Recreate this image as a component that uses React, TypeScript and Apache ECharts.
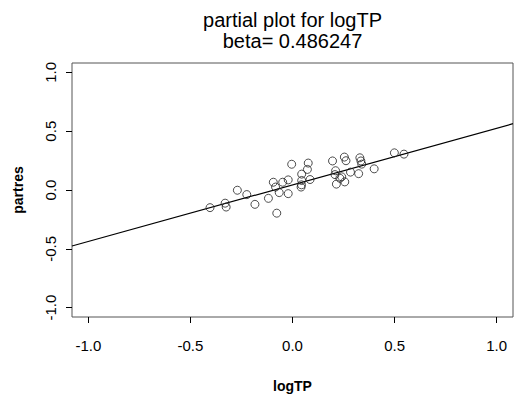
import React, { useEffect, useRef } from "react";
import * as echarts from "echarts";

// Data
const logTP: number[] = [
  -0.404, -0.33, -0.325, -0.27, -0.224, -0.184, -0.118, -0.077, -0.094, -0.083,
  -0.048, -0.021, -0.065, -0.021, -0.004, 0.077, 0.073, 0.045, 0.045, 0.086,
  0.044, 0.196, 0.254, 0.262, 0.33, 0.335, 0.339, 0.4, 0.211, 0.208,
  0.241, 0.284, 0.324, 0.215, 0.256, 0.499, 0.546, 0.042, 0.232,
];
const partres: number[] = [
  -0.15, -0.112, -0.145, -0.002, -0.039, -0.122, -0.071, -0.197, 0.066, 0.025,
  0.066, 0.086, -0.022, -0.031, 0.219, 0.229, 0.175, 0.135, 0.081, 0.089,
  0.044, 0.247, 0.28, 0.249, 0.274, 0.247, 0.22, 0.18, 0.164, 0.131,
  0.112, 0.152, 0.139, 0.05, 0.069, 0.316, 0.305, 0.025, 0.1,
];
const fitLineX: number[] = [-1.08, 1.08];
const fitLineY: number[] = [-0.476, 0.564];
const tickValues: number[] = [-1, -0.5, 0, 0.5, 1];
const titleLines: string[] = ["partial plot for logTP", "beta= 0.486247"];
const xName = "logTP";
const yName = "partres";

const FONT = "'Liberation Sans', Arial, Helvetica, sans-serif";

export default function App() {
  const ref = useRef<HTMLDivElement>(null);
  useEffect(() => {
    if (!ref.current) return;
    const chart = echarts.init(ref.current, null, { renderer: "svg" });
    const fmt = (v: number) => v.toFixed(1);
    chart.setOption({
      animation: false,
      backgroundColor: "#ffffff",
      graphic: [
        {
          type: "text",
          x: 292.5,
          y: 20,
          style: {
            text: titleLines[0],
            font: `20px ${FONT}`,
            fill: "#000",
            textAlign: "center",
            textVerticalAlign: "middle",
          },
        },
        {
          type: "text",
          x: 292.5,
          y: 41,
          style: {
            text: titleLines[1],
            font: `20px ${FONT}`,
            fill: "#000",
            textAlign: "center",
            textVerticalAlign: "middle",
          },
        },
      ],
      grid: {
        left: 72,
        right: 1,
        top: 63,
        bottom: 75,
        show: true,
        borderColor: "#555",
        borderWidth: 1,
        backgroundColor: "transparent",
      },
      xAxis: {
        type: "value",
        min: -1.08,
        max: 1.08,
        name: xName,
        nameLocation: "middle",
        nameGap: 62,
        nameTextStyle: { fontFamily: FONT, fontSize: 14, fontWeight: "bold", color: "#000" },
        axisLine: { show: false, onZero: false },
        axisTick: {
          show: true,
          customValues: tickValues,
          length: 6,
          lineStyle: { color: "#000" },
        },
        axisLabel: {
          customValues: tickValues,
          formatter: fmt,
          margin: 21,
          fontFamily: FONT,
          fontSize: 15,
          color: "#000",
        },
        splitLine: { show: false },
      },
      yAxis: {
        type: "value",
        min: -1.08,
        max: 1.08,
        name: yName,
        nameLocation: "middle",
        nameGap: 47,
        nameRotate: 90,
        nameTextStyle: { fontFamily: FONT, fontSize: 14, fontWeight: "bold", color: "#000" },
        axisLine: { show: false, onZero: false },
        axisTick: {
          show: true,
          customValues: tickValues,
          length: 6,
          lineStyle: { color: "#000" },
        },
        axisLabel: {
          customValues: tickValues,
          formatter: fmt,
          rotate: 90,
          margin: 14,
          fontFamily: FONT,
          fontSize: 15,
          color: "#000",
        },
        splitLine: { show: false },
      },
      series: [
        {
          type: "line",
          data: fitLineX.map((x, i) => [x, fitLineY[i]]),
          symbol: "none",
          lineStyle: { color: "#000", width: 1.2 },
          silent: true,
          z: 1,
        },
        {
          type: "scatter",
          data: logTP.map((x, i) => [x, partres[i]]),
          symbol: "circle",
          symbolSize: 8,
          itemStyle: { color: "rgba(0,0,0,0)", borderColor: "#222", borderWidth: 1 },
          z: 2,
        },
      ],
    });
    return () => chart.dispose();
  }, []);
  return <div ref={ref} style={{ width: 514, height: 398, position: "absolute", left: 0, top: 0 }} />;
}
